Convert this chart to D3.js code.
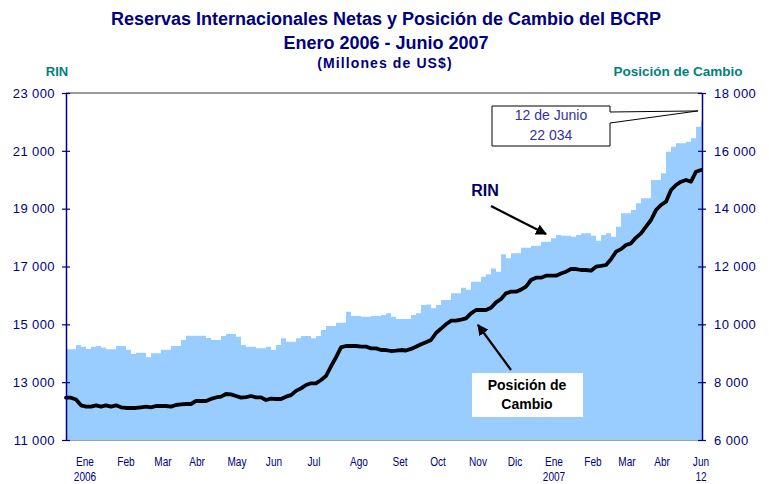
<!DOCTYPE html>
<html><head><meta charset="utf-8">
<script src="https://cdn.jsdelivr.net/npm/d3@7"></script>
<style>
body{margin:0;background:#fff;}
svg{display:block;font-family:"Liberation Sans",Arial,sans-serif;}
</style></head><body>
<svg id="chart" width="769" height="484"></svg>
<script>
// ---- data ----
const rin = [14137,14137,14285,14227,14147,14227,14250,14200,14137,14137,
14250,14250,14120,13974,14020,14020,13860,14000,14000,14120,
14120,14250,14250,14458,14607,14607,14607,14607,14530,14458,
14458,14600,14665,14665,14572,14285,14227,14227,14170,14170,
14227,14112,14285,14515,14400,14400,14515,14596,14596,14515,
14596,14804,14942,14942,15056,15056,15437,15288,15288,15265,
15265,15288,15288,15322,15380,15265,15184,15184,15184,15322,
15380,15668,15690,15553,15668,15841,15841,16072,16072,16268,
16200,16474,16474,16647,16728,16935,16820,17421,17283,17456,
17456,17652,17652,17721,17721,17857,17857,17975,18089,18060,
18060,18030,18089,18147,18147,18060,17893,18089,18147,18030,
18377,18839,18839,18953,19185,19360,19360,19991,19991,20222,
20970,21143,21259,21259,21315,21432,21834,22034];
const pos = [7464,7464,7400,7200,7153,7153,7199,7153,7199,7153,
7199,7130,7107,7107,7107,7130,7153,7130,7176,7176,
7176,7153,7210,7230,7245,7245,7349,7349,7349,7420,
7470,7498,7591,7579,7522,7464,7480,7522,7475,7475,
7383,7429,7418,7418,7498,7550,7700,7787,7902,7960,
7960,8075,8213,8550,8859,9204,9251,9251,9251,9228,
9228,9170,9170,9112,9112,9078,9090,9112,9095,9150,
9228,9308,9380,9458,9700,9850,10000,10127,10127,10160,
10207,10380,10495,10495,10495,10576,10761,10876,11072,11130,
11130,11200,11302,11533,11613,11613,11683,11683,11683,11760,
11821,11913,11913,11879,11879,11856,11994,12020,12052,12248,
12513,12600,12743,12800,13000,13147,13377,13608,13953,14126,
14241,14645,14818,14933,14991,14933,15279,15336];
const monthLabels = ["Ene","Feb","Mar","Abr","May","Jun","Jul","Ago","Set","Oct","Nov","Dic","Ene","Feb","Mar","Abr","Jun"];
const monthIndex  = [3.8,12,19.4,26.2,34.2,41.6,49.6,58.6,66.8,74.4,82.4,89.8,97.6,105.4,112.2,119.2,127];
const yearLabels = ["2006","2007","12"];
const yearIndex  = [3.8,97.6,127];
const rinTicks = [11000,13000,15000,17000,19000,21000,23000];
const posTicks = [6000,8000,10000,12000,14000,16000,18000];
const lastDateLabel = "12 de Junio";
const lastValue = 22034;

// ---- layout ----
const L = 66, R = 702, T = 93, B = 440;
const svg = d3.select("#chart");
const navy = "#000080", teal = "#008080";
const loc = d3.formatLocale({decimal:",", thousands:" ", grouping:[3], currency:["",""]});
const fmt = loc.format(",");

const N = rin.length;
const x = d3.scaleLinear().domain([0, N-1]).range([L, R-1]);
const yL = d3.scaleLinear().domain([11000, 23000]).range([B, T]);
const yR = d3.scaleLinear().domain([6000, 18000]).range([B, T]);

// area (RIN) as step columns
const areaPts = rin.map((v,i)=>[i,v]);
areaPts.push([x.invert(R), rin[N-1]]);
svg.append("path")
  .attr("d", d3.area().curve(d3.curveStepAfter).x(d=>x(d[0])).y0(B).y1(d=>yL(d[1]))(areaPts))
  .attr("fill", "#99CCFF");

// borders
svg.append("line").attr("x1",L).attr("x2",R).attr("y1",T).attr("y2",T).attr("stroke","#333").attr("stroke-width",1);
svg.append("line").attr("x1",L).attr("x2",R).attr("y1",B+0.5).attr("y2",B+0.5).attr("stroke","#a0a0a0").attr("stroke-width",1);

// position line
svg.append("path")
  .attr("d", d3.line().x((d,i)=>x(i)).y(d=>yR(d))(pos))
  .attr("fill","none").attr("stroke","#000").attr("stroke-width",3.8)
  .attr("stroke-linejoin","round").attr("stroke-linecap","round");

// axes
function styleAxis(g, left){
  g.select(".domain").attr("stroke", navy).attr("stroke-width",1.5);
  g.selectAll(".tick line").attr("stroke", navy).attr("stroke-width",1.2)
    .attr("x1", left ? 4 : -4);
  g.selectAll(".tick text").attr("fill", navy).style("font-size","13px")
    .style("letter-spacing","0.4px").style("font-family",'"Liberation Sans",Arial,sans-serif');
}
const gl = svg.append("g").attr("transform",`translate(${L},0)`)
  .call(d3.axisLeft(yL).tickValues(rinTicks).tickFormat(fmt).tickSizeInner(4).tickSizeOuter(0).tickPadding(7));
styleAxis(gl, true);
const gr = svg.append("g").attr("transform",`translate(${R},0)`)
  .call(d3.axisRight(yR).tickValues(posTicks).tickFormat(fmt).tickSizeInner(4).tickSizeOuter(0).tickPadding(8));
styleAxis(gr, false);

// x labels (condensed look)
svg.append("g").selectAll("text").data(monthLabels).join("text")
  .attr("transform",(d,i)=>`translate(${x(monthIndex[i])},466) scale(0.84,1)`)
  .attr("text-anchor","middle")
  .attr("fill",navy).style("font-size","12px").text(d=>d);
svg.append("g").selectAll("text").data(yearLabels).join("text")
  .attr("transform",(d,i)=>`translate(${x(yearIndex[i])},481) scale(0.84,1)`)
  .attr("text-anchor","middle")
  .attr("fill",navy).style("font-size","12px").text(d=>d);

// titles
svg.append("text").attr("x",386).attr("y",25).attr("text-anchor","middle").attr("fill",navy)
  .style("font-weight","bold").style("font-size","18px").text("Reservas Internacionales Netas y Posición de Cambio del BCRP");
svg.append("text").attr("x",386).attr("y",49).attr("text-anchor","middle").attr("fill",navy)
  .style("font-weight","bold").style("font-size","18px").text("Enero 2006 - Junio 2007");
svg.append("text").attr("x",385).attr("y",68).attr("text-anchor","middle").attr("fill",navy)
  .style("font-weight","bold").style("font-size","14px").style("letter-spacing","1.1px").text("(Millones de US$)");
svg.append("text").attr("x",57).attr("y",76).attr("text-anchor","middle").attr("fill",teal)
  .style("font-weight","bold").style("font-size","13px").text("RIN");
svg.append("text").attr("x",678).attr("y",76).attr("text-anchor","middle").attr("fill",teal)
  .style("font-weight","bold").style("font-size","13.5px").text("Posición de Cambio");

// callout for last value
const tipX = x(N-1) - 3, tipY = yL(lastValue) - 10;
svg.append("path")
  .attr("d",`M492,106 H610 V112 L${tipX},${tipY} L610,123 V146 H492 Z`)
  .attr("fill","#fff").attr("stroke","#000").attr("stroke-width",1);
svg.append("text").attr("x",551).attr("y",120).attr("text-anchor","middle").attr("fill","#333399")
  .style("font-size","14px").text(lastDateLabel);
svg.append("text").attr("x",551).attr("y",140).attr("text-anchor","middle").attr("fill","#333399")
  .style("font-size","14px").text(fmt(lastValue));

// arrows
const defs = svg.append("defs");
defs.append("marker").attr("id","ah").attr("viewBox","0 0 10 10").attr("refX",9).attr("refY",5)
  .attr("markerWidth",5).attr("markerHeight",5).attr("orient","auto")
  .append("path").attr("d","M0,0 L10,5 L0,10 z").attr("fill","#000");
svg.append("line").attr("x1",491).attr("y1",206).attr("x2",546).attr("y2",234)
  .attr("stroke","#000").attr("stroke-width",2.2).attr("marker-end","url(#ah)");
svg.append("text").attr("x",485).attr("y",196).attr("text-anchor","middle").attr("fill","#000066")
  .style("font-weight","bold").style("font-size","16px").text("RIN");

svg.append("rect").attr("x",472).attr("y",373).attr("width",111).attr("height",44).attr("fill","#fff");
svg.append("line").attr("x1",511).attr("y1",370).attr("x2",478).attr("y2",325)
  .attr("stroke","#000").attr("stroke-width",2.2).attr("marker-end","url(#ah)");
svg.append("text").attr("x",527).attr("y",390).attr("text-anchor","middle").attr("fill","#000")
  .style("font-weight","bold").style("font-size","14px").text("Posición de");
svg.append("text").attr("x",527).attr("y",409).attr("text-anchor","middle").attr("fill","#000")
  .style("font-weight","bold").style("font-size","14px").text("Cambio");
</script>
</body></html>
